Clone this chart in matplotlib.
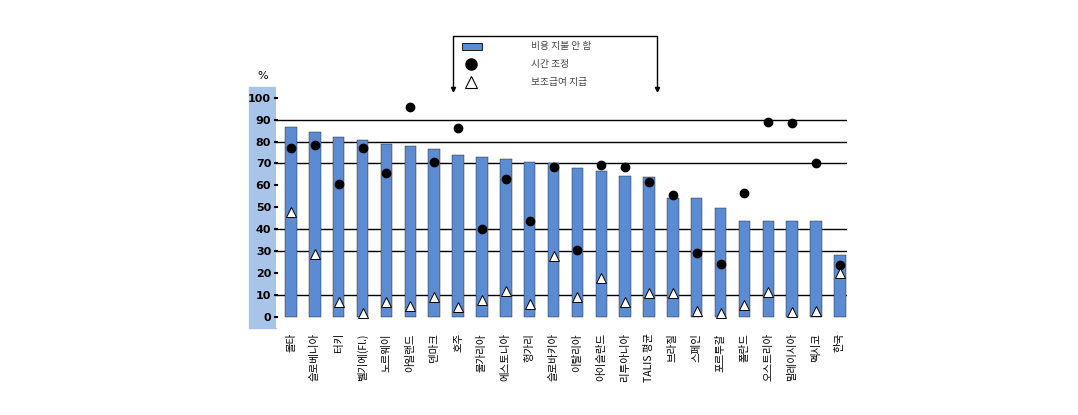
import matplotlib.pyplot as plt
from matplotlib.patches import Rectangle
from matplotlib.lines import Line2D

plt.rcParams['font.family'] = ['Noto Sans CJK KR', 'DejaVu Sans']

countries = ['몰타', '슬로베니아', '터키', '벨기에(Fl.)', '노르웨이', '아일랜드', '덴마크', '호주',
             '불가리아', '에스토니아', '헝가리', '슬로바키아', '이탈리아', '아이슬란드', '리투아니아',
             'TALIS 평균', '브라질', '스페인', '포르투갈', '폴란드', '오스트리아', '말레이시아',
             '멕시코', '한국']
paid_nothing = [86.5, 84.2, 81.9, 80.5, 79.0, 77.9, 76.6, 73.8, 72.8, 71.9, 70.6, 70.0,
                67.8, 66.5, 64.1, 63.6, 54.2, 54.2, 49.5, 43.6, 43.6, 43.6, 43.6, 28.0]
sched_time = [76.9, 78.3, 60.5, 76.9, 65.5, 95.6, 70.5, 86.0, 40.2, 63.0, 43.8, 68.2,
              30.5, 69.3, 68.2, 61.4, 55.6, 28.9, 24.1, 56.5, 88.9, 88.3, 70.3, 23.8]
salary_supp = [47.7, 28.6, 6.9, 1.5, 6.9, 5.0, 9.0, 4.6, 7.6, 11.7, 5.8, 27.7,
               9.1, 17.5, 6.6, 10.7, 10.7, 2.7, 1.5, 5.3, 11.1, 2.0, 2.7, 19.8]
legend_labels = ['비용 지불 안 함', '시간 조정', '보조급여 지급']

W, H = 1078, 415
fig = plt.figure(figsize=(W / 100, H / 100), dpi=100)
ax = fig.add_axes([276 / W, 1 - 327.6 / H, 571 / W, 240.8 / H])

bar_color = '#5B8BD2'
x = range(len(countries))

for g in [10, 30, 40, 70, 80, 90]:
    ax.axhline(g, color='black', lw=1, zorder=0)

ax.bar(x, paid_nothing, width=0.48, color=bar_color, edgecolor='#1a1a1a', linewidth=0.3, zorder=2)
ax.plot(x, sched_time, 'o', color='black', markersize=6, zorder=3)
ax.plot(x, salary_supp, '^', markerfacecolor='white', markeredgecolor='black',
        markeredgewidth=0.7, markersize=6.5, zorder=4)

ax.set_xlim(-0.63, 23.3)
ax.set_ylim(-5, 105)
ax.set_yticks(range(0, 101, 10))
ax.set_yticklabels([str(v) for v in range(0, 101, 10)], fontsize=8, fontweight='bold',
                   family='DejaVu Sans')
ax.tick_params(axis='y', direction='inout', length=3, width=1.5, pad=2)
ax.set_xticks(list(x))
ax.set_xticklabels(countries, rotation=90, fontsize=7.5, va='top')
ax.tick_params(axis='x', length=0, pad=4)
for s in ax.spines.values():
    s.set_visible(False)

# light blue band behind the y axis labels
fig.add_artist(Rectangle((249 / W, 1 - 327.6 / H), 27 / W, 240.8 / H,
                         transform=fig.transFigure, color='#A9C4E9', zorder=0))
fig.text(263 / W, 1 - 76 / H, '%', fontsize=8, ha='center', va='center',
         family='DejaVu Sans')

# legend with bracket
def fx(px):
    return px / W

def fy(py):
    return 1 - py / H

fig.add_artist(Line2D([fx(453), fx(453), fx(657), fx(657)], [fy(90), fy(36), fy(36), fy(90)],
                      transform=fig.transFigure, color='black', lw=1))
fig.add_artist(Line2D([fx(453), fx(657)], [fy(89), fy(89)], transform=fig.transFigure,
                      linestyle='none', marker='v', color='black', markersize=3))
fig.add_artist(Rectangle((fx(462), fy(50)), 20 / W, 7 / H, transform=fig.transFigure,
                         facecolor=bar_color, edgecolor='black', lw=0.6))
fig.add_artist(Line2D([fx(471)], [fy(64)], transform=fig.transFigure, marker='o',
                      color='black', markersize=8))
fig.add_artist(Line2D([fx(471)], [fy(82)], transform=fig.transFigure, marker='^',
                      markerfacecolor='white', markeredgecolor='black',
                      markeredgewidth=0.8, markersize=8))
for lbl, py in zip(legend_labels, [46.5, 64, 82.5]):
    fig.text(fx(531), fy(py), lbl, fontsize=7, color='#444444', va='center')

fig.savefig('out.png', dpi=100)
